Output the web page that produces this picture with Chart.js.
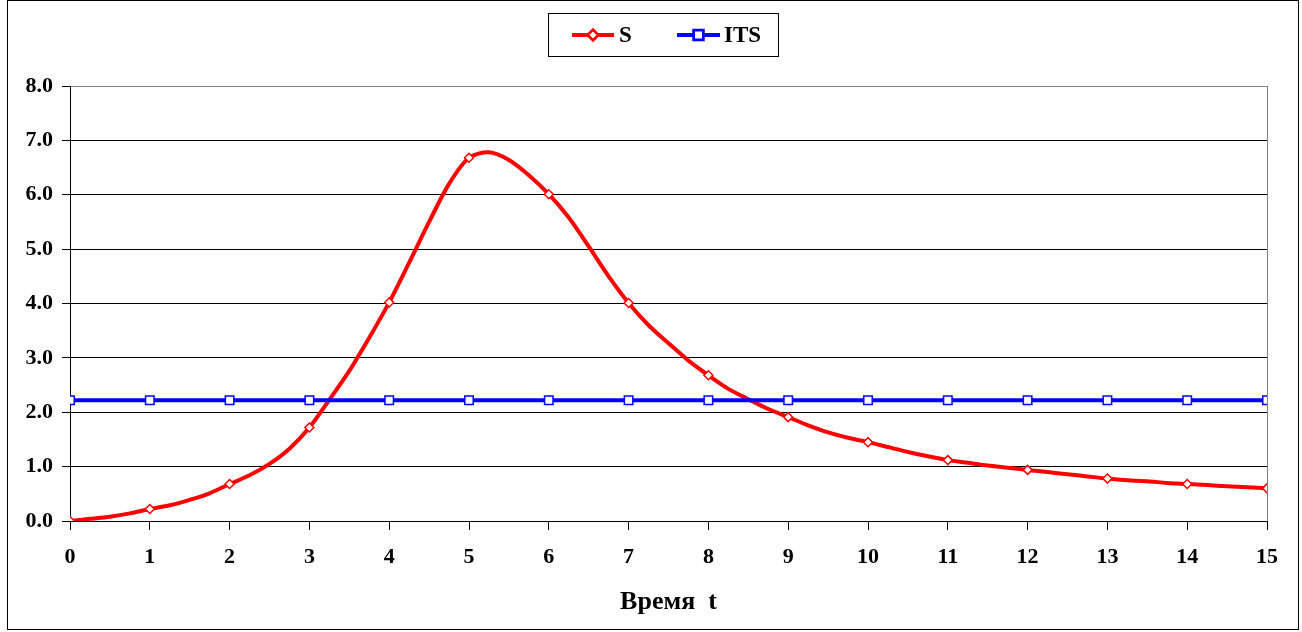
<!DOCTYPE html>
<html>
<head>
<meta charset="utf-8">
<script src="https://cdn.jsdelivr.net/npm/chart.js@4/dist/chart.umd.min.js"></script>
<style>
  html, body { margin: 0; padding: 0; background: #fff; }
  #marco { position: absolute; left: 7px; top: 0px; width: 1292px; height: 630px; border: 1px solid #000; box-sizing: border-box; }
  #lienzo { position: absolute; left: 0; top: 0; width: 1302px; height: 632px; }
</style>
</head>
<body>
<div id="marco"></div>
<div id="lienzo"><canvas id="grafico"></canvas></div>
<script>
// datos
const tiempoS = [0, 0.25, 0.5, 0.75, 1, 1.25, 1.5, 1.75, 2, 2.25, 2.5, 2.75, 3, 3.25, 3.5, 3.75,
  4, 4.25, 4.5, 4.75, 5, 5.25, 5.5, 5.75, 6, 6.25, 6.5, 6.75, 7, 7.25, 7.5, 7.75,
  8, 8.25, 8.5, 8.75, 9, 9.25, 9.5, 9.75, 10, 10.25, 10.5, 10.75, 11, 11.25, 11.5, 11.75,
  12, 12.25, 12.5, 12.75, 13, 13.25, 13.5, 13.75, 14, 14.25, 14.5, 14.75, 15];
const valoresS = [0, 0.04, 0.08, 0.14, 0.22, 0.29, 0.39, 0.51, 0.68, 0.84, 1.05, 1.33, 1.72, 2.23, 2.76, 3.37,
  4.02, 4.75, 5.5, 6.2, 6.68, 6.78, 6.64, 6.36, 6.01, 5.58, 5.05, 4.5, 4.01, 3.6, 3.27, 2.95,
  2.68, 2.43, 2.24, 2.06, 1.91, 1.76, 1.63, 1.53, 1.45, 1.36, 1.27, 1.19, 1.12, 1.07, 1.02, 0.98,
  0.94, 0.90, 0.86, 0.82, 0.78, 0.75, 0.73, 0.70, 0.68, 0.66, 0.64, 0.62, 0.60];
const tiempoITS = [0, 1, 2, 3, 4, 5, 6, 7, 8, 9, 10, 11, 12, 13, 14, 15];
const valoresITS = [2.22, 2.22, 2.22, 2.22, 2.22, 2.22, 2.22, 2.22, 2.22, 2.22, 2.22, 2.22, 2.22, 2.22, 2.22, 2.22];
const etiquetasX = ['0', '1', '2', '3', '4', '5', '6', '7', '8', '9', '10', '11', '12', '13', '14', '15'];
const etiquetasY = ['0.0', '1.0', '2.0', '3.0', '4.0', '5.0', '6.0', '7.0', '8.0'];
const nombres = ['S', 'ITS'];
const tituloX = 'Время  t';

const FUENTE = '"Liberation Serif", "Times New Roman", serif';
const ROJO = '#ff0000', AZUL = '#0000ff';

function armarPuntos(xs, ys) { return xs.map((x, i) => ({ x: x, y: ys[i] })); }

// leyenda con marco, como la del original
const leyendaCaja = {
  id: 'leyendaCaja',
  afterDraw(chart) {
    const c = chart.ctx;
    c.save();
    c.strokeStyle = '#000'; c.lineWidth = 1;
    c.strokeRect(548.5, 13.5, 230, 43);
    const items = [
      { ds: chart.data.datasets[0], x0: 572, x1: 614, tx: 619 },
      { ds: chart.data.datasets[1], x0: 677, x1: 720, tx: 724 }
    ];
    const y = 35;
    items.forEach(it => {
      c.strokeStyle = it.ds.borderColor; c.lineWidth = 4;
      c.beginPath(); c.moveTo(it.x0, y); c.lineTo(it.x1, y); c.stroke();
      const mx = (it.x0 + it.x1) / 2;
      Chart.helpers.drawPoint(c, { pointStyle: it.ds.pointStyle, radius: it.ds.legendRadius, borderWidth: 1.5 }, mx, y);
      c.fillStyle = '#fff'; c.strokeStyle = it.ds.borderColor; c.lineWidth = 1.5;
      c.beginPath();
      if (it.ds.pointStyle === 'rectRot') {
        const r = it.ds.legendRadius;
        c.moveTo(mx, y - r); c.lineTo(mx + r, y); c.lineTo(mx, y + r); c.lineTo(mx - r, y); c.closePath();
      } else {
        const s = it.ds.legendRadius * Math.SQRT1_2;
        c.rect(mx - s, y - s, 2 * s, 2 * s);
      }
      c.fill(); c.stroke();
      c.fillStyle = '#000';
      c.font = 'bold 23px ' + FUENTE;
      c.textBaseline = 'middle';
      c.fillText(it.ds.label, it.tx, y + 1);
    });
    c.restore();
  }
};

new Chart(document.getElementById('grafico'), {
  type: 'line',
  data: {
    datasets: [
      {
        label: nombres[0],
        data: armarPuntos(tiempoS, valoresS),
        borderColor: ROJO, borderWidth: 4,
        tension: 0.3,
        pointStyle: 'rectRot', legendRadius: 4.5,
        pointRadius: ctx => (ctx.raw && Number.isInteger(ctx.raw.x)) ? 4.5 : 0,
        pointBackgroundColor: '#fff', pointBorderColor: ROJO, pointBorderWidth: 1.5,
        order: 2
      },
      {
        label: nombres[1],
        data: armarPuntos(tiempoITS, valoresITS),
        borderColor: AZUL, borderWidth: 4,
        pointStyle: 'rect', legendRadius: 6, pointRadius: 6,
        pointBackgroundColor: '#fff', pointBorderColor: AZUL, pointBorderWidth: 1.5,
        order: 1
      }
    ]
  },
  options: {
    responsive: true, maintainAspectRatio: false, animation: false,
    layout: { padding: { left: 8, right: 35, top: 86, bottom: 0 } },
    plugins: { legend: { display: false }, tooltip: { enabled: false } },
    scales: {
      x: {
        type: 'linear', min: 0, max: 15,
        afterFit: s => { s.height = 111; },
        afterBuildTicks: s => { s.ticks = etiquetasX.map(v => ({ value: Number(v) })); },
        border: { color: '#000', width: 1 },
        grid: {
          color: ctx => (ctx.tick && ctx.tick.value === 15) ? '#808080' : 'rgba(0,0,0,0)',
          tickColor: '#000', tickLength: 9, drawOnChartArea: true
        },
        ticks: {
          color: '#000', padding: 14, maxRotation: 0,
          font: { family: FUENTE, size: 22, weight: 'bold' },
          callback: (v, i) => etiquetasX[i]
        },
        title: {
          display: true, text: tituloX, color: '#000',
          font: { family: FUENTE, size: 26, weight: 'bold' },
          padding: { top: 0, bottom: 14 }
        }
      },
      y: {
        min: 0, max: 8,
        afterFit: s => { s.width = 62; },
        afterBuildTicks: s => { s.ticks = etiquetasY.map(v => ({ value: Number(v) })); },
        border: { color: '#000', width: 1 },
        grid: {
          color: ctx => (ctx.tick && ctx.tick.value === 8) ? '#808080' : '#000',
          tickColor: '#000', tickLength: 8
        },
        ticks: {
          color: '#000', padding: 9,
          font: { family: FUENTE, size: 22, weight: 'bold' },
          callback: (v, i) => etiquetasY[i]
        }
      }
    }
  },
  plugins: [leyendaCaja]
});
</script>
</body>
</html>
